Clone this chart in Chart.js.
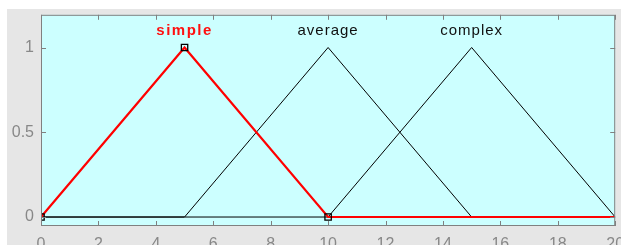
<!DOCTYPE html>
<html>
<head>
<meta charset="utf-8">
<script src="https://cdn.jsdelivr.net/npm/chart.js@4"></script>
<style>
  html, body { margin: 0; padding: 0; background: #fff; width: 621px; height: 245px; overflow: hidden; }
  #fig { position: absolute; left: 7px; top: 9px; width: 614px; height: 236px; background: #e6e6e6; }
</style>
</head>
<body>
<div id="fig"><canvas id="mf" width="614" height="236"></canvas></div>
<script>
// membership functions sampled at the corner points
const xValues = [0, 5, 10, 15, 20];
const simpleY = [0, 1, 0, 0, 0];
const averageY = [0, 0, 1, 0, 0];
const complexY = [0, 0, 0, 1, 0];
const setNames = ['simple', 'average', 'complex'];
const setPeaks = [5, 10, 15];
const xTicks = [0, 2, 4, 6, 8, 10, 12, 14, 16, 18, 20];
const yTicks = [0, 0.5, 1];
// selected-set vertices marked with squares
const markX = [0, 5, 10];
const markY = [0, 1, 0];

const pts = (xs, ys) => xs.map((x, i) => ({ x, y: ys[i] }));
const FONT = '"Liberation Sans", Arial';

const frame = {
  id: 'frame',
  beforeDraw(chart) {
    const { ctx, chartArea: a } = chart;
    ctx.save();
    ctx.fillStyle = '#ccffff';
    ctx.fillRect(a.left, a.top, a.right - a.left, a.bottom - a.top);
    ctx.restore();
  },
  afterDraw(chart) {
    const { ctx, chartArea: a, scales } = chart;
    ctx.save();
    ctx.strokeStyle = '#808080';
    ctx.lineWidth = 1;
    ctx.strokeRect(a.left + 0.5, a.top + 0.5, a.right - a.left - 1, a.bottom - a.top - 1);
    ctx.beginPath();
    xTicks.forEach(v => {
      const x = Math.round(scales.x.getPixelForValue(v)) + 0.5;
      ctx.moveTo(x, a.bottom); ctx.lineTo(x, a.bottom - 5);
      ctx.moveTo(x, a.top); ctx.lineTo(x, a.top + 5);
    });
    yTicks.forEach(v => {
      const y = Math.round(scales.y.getPixelForValue(v)) + 0.5;
      ctx.moveTo(a.left, y); ctx.lineTo(a.left + 5, y);
      ctx.moveTo(a.right, y); ctx.lineTo(a.right - 5, y);
    });
    ctx.stroke();

    ctx.textAlign = 'center';
    ctx.textBaseline = 'middle';
    setNames.forEach((name, i) => {
      ctx.font = (i === 0 ? 'bold ' : '') + '15px ' + FONT;
      ctx.letterSpacing = i === 0 ? '1.5px' : '1px';
      ctx.fillStyle = i === 0 ? '#ff1010' : '#101010';
      ctx.fillText(name, scales.x.getPixelForValue(setPeaks[i]), scales.y.getPixelForValue(1.1));
    });
    ctx.restore();
  }
};

new Chart(document.getElementById('mf'), {
  type: 'scatter',
  data: {
    datasets: [
      { data: pts(markX, markY), showLine: false, pointStyle: 'rect', pointRadius: 4.5,
        backgroundColor: 'rgba(0,0,0,0)', borderColor: '#000', borderWidth: 1.3, order: 0 },
      { data: pts(xValues, simpleY), showLine: true, borderColor: '#ff0000', borderWidth: 2.2,
        pointRadius: 0, order: 1 },
      { data: pts(xValues, averageY), showLine: true, borderColor: '#000', borderWidth: 1,
        pointRadius: 0, order: 2 },
      { data: pts(xValues, complexY), showLine: true, borderColor: '#000', borderWidth: 1,
        pointRadius: 0, order: 3 }
    ]
  },
  options: {
    responsive: false,
    animation: false,
    events: [],
    layout: { padding: { top: 4, right: 5, left: 0, bottom: 0 } },
    plugins: { legend: { display: false }, tooltip: { enabled: false } },
    scales: {
      x: {
        type: 'linear', min: 0, max: 20,
        afterBuildTicks: s => { s.ticks = xTicks.map(v => ({ value: v })); },
        afterFit: s => { s.height = 19; s.paddingLeft = 0; s.paddingRight = 0; },
        grid: { display: false, drawTicks: false },
        border: { display: false },
        ticks: { color: '#888888', padding: 9, maxRotation: 0, font: { family: FONT, size: 16 } }
      },
      y: {
        min: -0.053, max: 1.193,
        afterBuildTicks: s => { s.ticks = yTicks.map(v => ({ value: v })); },
        afterFit: s => { s.width = 34; s.paddingTop = 0; s.paddingBottom = 0; },
        grid: { display: false, drawTicks: false },
        border: { display: false },
        ticks: { color: '#888888', padding: 7, callback: v => String(v), font: { family: FONT, size: 16 } }
      }
    }
  },
  plugins: [frame]
});
</script>
</body>
</html>
